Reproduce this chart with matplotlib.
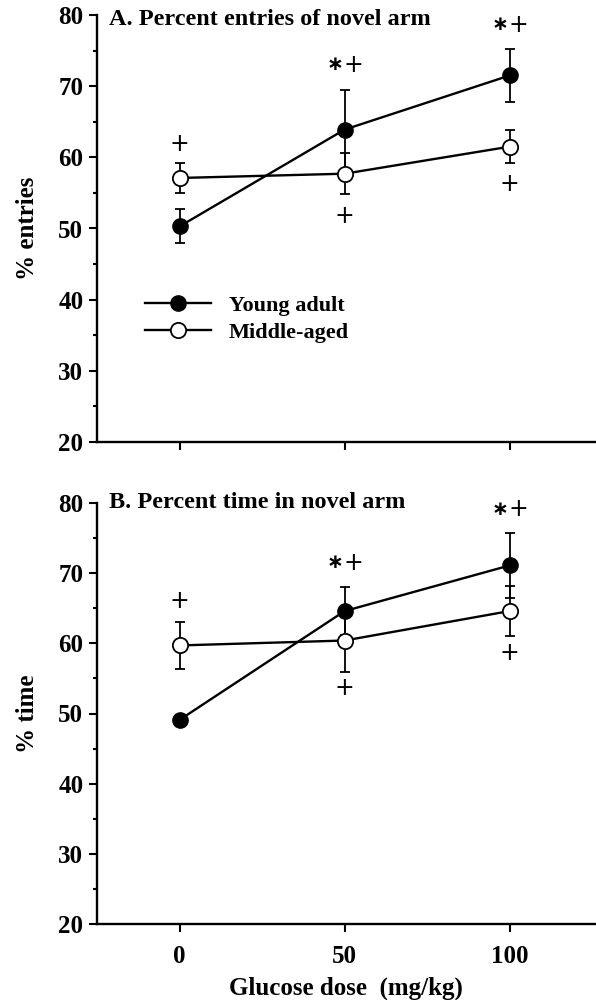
"""
Two-panel glucose dose plot: % entries and % time in the novel arm.
"""

import matplotlib.pyplot as plt
from matplotlib.ticker import MultipleLocator

plt.rcParams['font.family'] = ['Liberation Serif', 'DejaVu Serif']
plt.rcParams['font.weight'] = 'bold'

DOSES = [0, 50, 100]

# panel A: percent entries of novel arm
A_YOUNG = [50.3, 63.9, 71.5]
A_YOUNG_SEM = [2.4, 5.5, 3.7]
A_MIDDLE = [57.1, 57.7, 61.5]
A_MIDDLE_SEM = [2.1, 2.9, 2.3]
A_MARK_X = [0, 50, 50, 100, 100]
A_MARK_Y = [61.9, 73.0, 51.8, 78.6, 56.2]
A_MARK_TXT = ['+', '*+', '+', '*+', '+']

# panel B: percent time in novel arm
B_YOUNG = [49.1, 64.6, 71.1]
B_YOUNG_SEM = [0.0, 3.4, 4.6]
B_MIDDLE = [59.7, 60.4, 64.6]
B_MIDDLE_SEM = [3.4, 4.5, 3.6]
B_MARK_X = [0, 50, 50, 100, 100]
B_MARK_Y = [66.0, 71.5, 53.6, 79.1, 58.6]
B_MARK_TXT = ['+', '*+', '+', '*+', '+']

FS = 18


def put_mark(ax, x, y, txt):
    # '*' drawn as a centred asterisk left of the '+'
    if txt == '*+':
        ax.annotate('∗', (x, y), xytext=(-7, 0), textcoords='offset points',
                    ha='center', va='center', fontsize=14.5, fontweight='bold',
                    family='DejaVu Sans')
        ax.annotate('+', (x, y), xytext=(6, 0), textcoords='offset points',
                    ha='center', va='center', fontsize=17, fontweight='normal',
                    family='DejaVu Sans')
    else:
        ax.annotate(txt, (x, y), ha='center', va='center', fontsize=17,
                    fontweight='normal', family='DejaVu Sans')


def plot_panel(ax, title, ylab, young, ysem, middle, msem, mx, my, mtxt, title_y):
    ax.errorbar(DOSES, young, yerr=ysem, color='k', lw=1.7, elinewidth=1.3,
                capsize=3.5, capthick=1.3, marker='o', ms=11, mfc='k', mec='k',
                label='Young adult', zorder=3)
    ax.errorbar(DOSES, middle, yerr=msem, color='k', lw=1.7, elinewidth=1.3,
                capsize=3.5, capthick=1.3, marker='o', ms=11, mfc='white', mec='k',
                mew=1.3, label='Middle-aged', zorder=4)
    for x, y, t in zip(mx, my, mtxt):
        put_mark(ax, x, y, t)

    ax.set_xlim(-25, 126)
    ax.set_ylim(20, 80)
    ax.set_xticks(DOSES)
    ax.yaxis.set_major_locator(MultipleLocator(10))
    ax.yaxis.set_minor_locator(MultipleLocator(5))
    ax.spines['top'].set_visible(False)
    ax.spines['right'].set_visible(False)
    ax.spines['left'].set_linewidth(1.7)
    ax.spines['bottom'].set_linewidth(1.7)
    ax.tick_params(axis='y', which='major', length=6, width=1.5, pad=4, labelsize=FS)
    ax.tick_params(axis='y', which='minor', length=3, width=1.5)
    ax.tick_params(axis='x', length=6, width=1.5, pad=9, labelsize=FS)
    for lbl in ax.get_yticklabels() + ax.get_xticklabels():
        lbl.set_fontweight('bold')

    ax.set_ylabel(ylab, fontsize=FS, fontweight='bold')
    ax.yaxis.set_label_coords(-0.117, 0.5)
    ax.text(0.024, title_y, title, transform=ax.transAxes, ha='left', va='center',
            fontsize=17.5, fontweight='bold')


fig = plt.figure(figsize=(5.96, 10), dpi=100)
ax1 = fig.add_axes([0.163, 0.558, 0.836, 0.427])
ax2 = fig.add_axes([0.163, 0.076, 0.836, 0.421])

plot_panel(ax1, 'A. Percent entries of novel arm', '% entries',
           A_YOUNG, A_YOUNG_SEM, A_MIDDLE, A_MIDDLE_SEM,
           A_MARK_X, A_MARK_Y, A_MARK_TXT, 0.99)
plot_panel(ax2, 'B. Percent time in novel arm', '% time',
           B_YOUNG, B_YOUNG_SEM, B_MIDDLE, B_MIDDLE_SEM,
           B_MARK_X, B_MARK_Y, B_MARK_TXT, 1.0)

ax1.set_xticklabels([])
ax2.set_xlabel('Glucose dose  (mg/kg)', fontsize=FS, fontweight='bold')
ax2.xaxis.set_label_coords(0.5, -0.125)

# legend without error bar glyphs
h, l = ax1.get_legend_handles_labels()
h = [hh[0] for hh in h]
ax1.legend(h, l, loc='upper left', bbox_to_anchor=(0.055, 0.39), frameon=False,
           handlelength=3.0, handletextpad=0.8, labelspacing=0.3,
           prop={'size': 16, 'weight': 'bold'})

fig.savefig('out.png', dpi=100)
